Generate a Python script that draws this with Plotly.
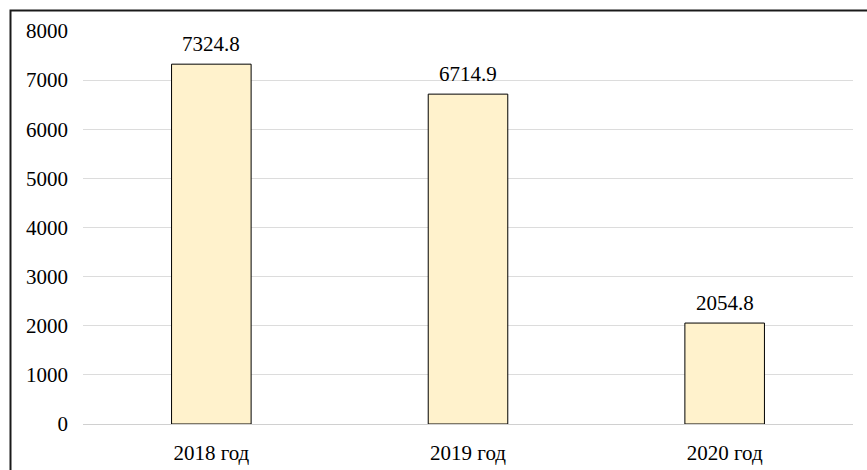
import plotly.graph_objects as go

categories = ["2018 год", "2019 год", "2020 год"]
values = [7324.8, 6714.9, 2054.8]
y_ticks = [0, 1000, 2000, 3000, 4000, 5000, 6000, 7000, 8000]

W, H = 867, 470
L, R, T, B = 83, 14, 31, 46
plot_w = W - L - R
plot_h = H - T - B

font = dict(family="'Liberation Serif', 'Times New Roman', Times, serif", size=21, color="#000000")

fig = go.Figure(
    go.Bar(
        x=categories,
        y=values,
        marker=dict(color="#FFF2CC", line=dict(color="#000000", width=1)),
        width=0.31,
        hoverinfo="skip",
    )
)

# value labels above each bar
for c, v in zip(categories, values):
    fig.add_annotation(
        x=c, y=v, text=f"{v:.1f}", showarrow=False,
        yanchor="bottom", yshift=6, font=font,
    )

# frame around the whole chart (extends past right/bottom edges)
def px_to_paper_x(px):
    return (px - L) / plot_w

def px_to_paper_y(py):
    return (H - B - py) / plot_h

fig.add_shape(
    type="rect", xref="paper", yref="paper",
    x0=px_to_paper_x(10.5), x1=px_to_paper_x(W + 20),
    y0=px_to_paper_y(H + 20), y1=px_to_paper_y(10.5),
    line=dict(color="#1a1a1a", width=2), fillcolor="rgba(0,0,0,0)",
    layer="above",
)

fig.update_layout(
    width=W, height=H,
    margin=dict(l=L, r=R, t=T, b=B, pad=0, autoexpand=False),
    paper_bgcolor="#ffffff", plot_bgcolor="#ffffff",
    font=font,
    showlegend=False,
    xaxis=dict(
        showgrid=False, showline=False, zeroline=False, automargin=False,
        ticks="", ticklabelstandoff=14, tickfont=font,
    ),
    yaxis=dict(
        range=[0, 8000], tickvals=y_ticks, automargin=False,
        showgrid=True, gridcolor="#dcdcdc", gridwidth=1,
        zeroline=True, zerolinecolor="#d0d0d0", zerolinewidth=1,
        showline=False, ticks="", ticklabelstandoff=14, tickfont=font,
    ),
)

fig.write_html("out.html")
